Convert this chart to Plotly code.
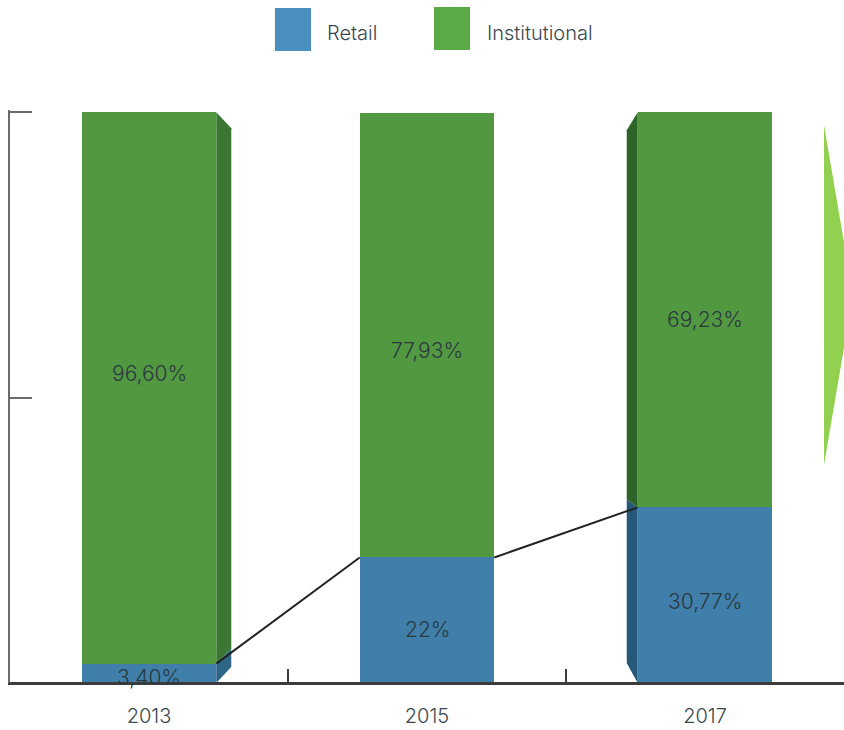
import plotly.graph_objects as go

# ---- data ----
years = ["2013", "2015", "2017"]
retail = [3.40, 22.00, 30.77]
institutional = [96.60, 77.93, 69.23]
retail_labels = ["3,40%", "22%", "30,77%"]
inst_labels = ["96,60%", "77,93%", "69,23%"]

# ---- style ----
BLUE = "#3f7fa9"
GREEN = "#529840"
BLUE_SIDE_R = "#2e6687"
GREEN_SIDE_R = "#3b7632"
BLUE_SIDE_L = "#26587a"
GREEN_SIDE_L = "#2e6429"
LEG_BLUE = "#4a8fc0"
LEG_GREEN = "#5aab46"
TXT = "#2a3840"
FONT = "Inter"
W = 0.484  # bar width (category units)
YMAX = 100.4

xs = list(range(len(years)))
fig = go.Figure()

fig.add_trace(go.Bar(x=xs, y=retail, width=W, marker=dict(color=BLUE, line=dict(width=0)),
                     name="Retail", hoverinfo="skip"))
fig.add_trace(go.Bar(x=xs, y=institutional, width=W, marker=dict(color=GREEN, line=dict(width=0)),
                     name="Institutional", hoverinfo="skip"))

# 3D side faces (derived from data values)
px_x = 278.0   # pixels per category unit
px_y = 5.707   # pixels per percent
# right face on first bar
r0 = retail[0]
xa = xs[0] + W / 2
xb = xa + 15 / px_x
dy = 16 / px_y
fig.add_trace(go.Scatter(x=[xa, xb, xb, xa, xa], y=[100, 100 - dy, r0 + 15 / px_y, r0, 100],
                         fill="toself", fillcolor=GREEN_SIDE_R, line=dict(width=0), mode="lines",
                         hoverinfo="skip", showlegend=False))
fig.add_trace(go.Scatter(x=[xa, xb, xb, xa, xa], y=[r0, r0 + 15 / px_y, dy, 0, r0],
                         fill="toself", fillcolor=BLUE_SIDE_R, line=dict(width=0), mode="lines",
                         hoverinfo="skip", showlegend=False))
# left face on last bar
r2 = retail[2]
xb2 = xs[2] - W / 2
xa2 = xb2 - 11 / px_x
fig.add_trace(go.Scatter(x=[xa2, xb2, xb2, xa2, xa2], y=[100 - 18 / px_y, 100, r2, r2 + 8 / px_y, 100 - 18 / px_y],
                         fill="toself", fillcolor=GREEN_SIDE_L, line=dict(width=0), mode="lines",
                         hoverinfo="skip", showlegend=False))
fig.add_trace(go.Scatter(x=[xa2, xb2, xb2, xa2, xa2], y=[r2 + 8 / px_y, r2, 0, 20 / px_y, r2 + 8 / px_y],
                         fill="toself", fillcolor=BLUE_SIDE_L, line=dict(width=0), mode="lines",
                         hoverinfo="skip", showlegend=False))

# connecting lines between retail tops
lx, ly = [], []
for i in range(len(xs) - 1):
    lx += [xs[i] + W / 2, xs[i + 1] - W / 2, None]
    ly += [retail[i], retail[i + 1], None]
fig.add_trace(go.Scatter(x=lx, y=ly, mode="lines", line=dict(color="#222222", width=2),
                         hoverinfo="skip", showlegend=False))

# labels
ann = []
inst_shift = [14, -15, -10]
ret_shift = [-4, -9, -6]
for i in xs:
    ann.append(dict(x=i, y=retail[i] + institutional[i] / 2, text=inst_labels[i], showarrow=False,
                    yshift=inst_shift[i], font=dict(family=FONT, size=21, color=TXT, weight=300)))
    ann.append(dict(x=i, y=retail[i] / 2, text=retail_labels[i], showarrow=False,
                    yshift=ret_shift[i], font=dict(family=FONT, size=21, color=TXT, weight=300)))

# manual legend
shapes = [
    dict(type="rect", xref="paper", yref="paper", x0=0.3177, x1=0.3609, y0=1.103, y1=1.178,
         fillcolor=LEG_BLUE, line=dict(width=0)),
    dict(type="rect", xref="paper", yref="paper", x0=0.5084, x1=0.5516, y0=1.1047, y1=1.1798,
         fillcolor=LEG_GREEN, line=dict(width=0)),
    # decorative arrow at right edge
    dict(type="path", xref="paper", yref="paper",
         path="M 0.976 0.9738 L 1.0108 0.6771 L 0.976 0.3805 Z",
         fillcolor="#92d050", line=dict(width=0)),
    # bottom axis line across the full width
    dict(type="line", xref="paper", yref="paper", x0=0, x1=1.02, y0=0, y1=0,
         line=dict(color="#3c3c3c", width=2)),
]
ann.append(dict(xref="paper", yref="paper", x=0.3777, y=1.1344, xanchor="left", yanchor="middle",
                text="Retail", showarrow=False, font=dict(family=FONT, size=20, color="#3a4850", weight=300)))
ann.append(dict(xref="paper", yref="paper", x=0.5695, y=1.1344, xanchor="left", yanchor="middle",
                text="Institutional", showarrow=False, font=dict(family=FONT, size=20, color="#3a4850", weight=300)))

fig.update_layout(
    width=844, height=730,
    margin=dict(l=10, r=0, t=110, b=47),
    paper_bgcolor="white", plot_bgcolor="white",
    barmode="stack", showlegend=False,
    annotations=ann, shapes=shapes,
    xaxis=dict(range=[-0.5, 2.5], tickvals=xs, ticktext=years, ticks="", showgrid=False,
               zeroline=False, showline=True, linecolor="#3c3c3c", linewidth=2, automargin=False,
               tickfont=dict(family=FONT, size=20, color="#3a4850", weight=300), ticklabelstandoff=14,
               minor=dict(tickvals=[0.5, 1.5], ticks="inside", ticklen=14, tickwidth=2,
                          tickcolor="#3c3c3c", showgrid=False)),
    yaxis=dict(range=[0, YMAX], tickvals=[0, 50, 100], showticklabels=False, ticks="inside",
               ticklen=22, tickwidth=2, tickcolor="#6b6b6b", showgrid=False, zeroline=False,
               showline=True, linecolor="#6b6b6b", linewidth=2, automargin=False),
)

fig.write_html("out.html")
